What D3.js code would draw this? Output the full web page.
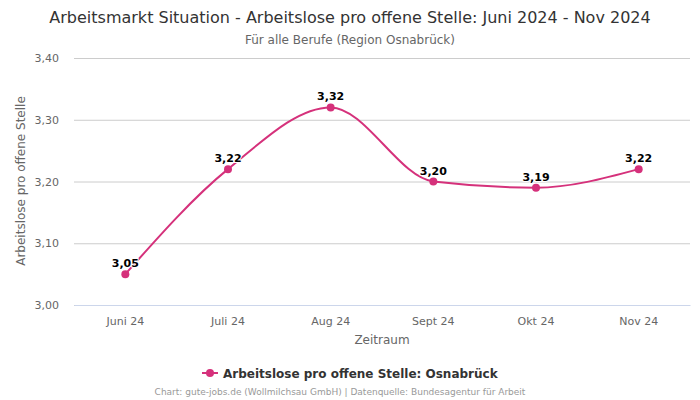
<!DOCTYPE html>
<html><head><meta charset="utf-8">
<script src="https://cdn.jsdelivr.net/npm/d3@7"></script>
<style>body{margin:0;background:#fff;font-family:"DejaVu Sans",sans-serif;}</style>
</head><body><svg id="c" width="700" height="400"></svg>
<script>
const categories = ["Juni 24","Juli 24","Aug 24","Sept 24","Okt 24","Nov 24"];
const values = [3.05,3.22,3.32,3.20,3.19,3.22];
const yTicks = [3.00,3.10,3.20,3.30,3.40];
const color = "#d5317b";
const fmt = v => v.toFixed(2).replace(".", ",");

const svg = d3.select("#c");
const pLeft = 74, pRight = 690, pTop = 58, pBottom = 305;
const x = d3.scaleBand().domain(categories).range([pLeft, pRight]);
const y = d3.scaleLinear().domain([3.0, 3.4]).range([pBottom, pTop]);
const cx = d => x(d) + x.bandwidth()/2;

svg.append("text").attr("x",350).attr("y",22.5).attr("text-anchor","middle")
  .attr("font-size",16).attr("fill","#333")
  .text("Arbeitsmarkt Situation - Arbeitslose pro offene Stelle: Juni 2024 - Nov 2024");
svg.append("text").attr("x",350).attr("y",43.5).attr("text-anchor","middle")
  .attr("font-size",12).attr("fill","#666").text("Für alle Berufe (Region Osnabrück)");

const ya = svg.append("g").attr("transform",`translate(${pLeft},0)`)
  .call(d3.axisLeft(y).tickValues(yTicks).tickSize(-(pRight-pLeft)).tickFormat(fmt));
ya.select(".domain").remove();
ya.selectAll("line").attr("stroke","#ccc");
ya.selectAll("text").attr("fill","#666").attr("font-size",11).attr("x",-15)
  .attr("font-family","DejaVu Sans");

const xa = svg.append("g").attr("transform",`translate(0,${pBottom})`)
  .call(d3.axisBottom(x).tickSize(0));
xa.select(".domain").attr("stroke","#ccd6eb");
xa.selectAll("text").attr("fill","#666").attr("font-size",11).attr("dy","1.5em")
  .attr("font-family","DejaVu Sans");

svg.append("text").attr("transform","translate(25,181) rotate(-90)").attr("text-anchor","middle")
  .attr("font-size",12).attr("fill","#666").text("Arbeitslose pro offene Stelle");
svg.append("text").attr("x",382).attr("y",344).attr("text-anchor","middle")
  .attr("font-size",12).attr("fill","#666").text("Zeitraum");

const line = d3.line().x((d,i)=>cx(categories[i])).y(d=>y(d)).curve(d3.curveMonotoneX);
svg.append("path").datum(values).attr("d",line).attr("fill","none").attr("stroke",color).attr("stroke-width",2);
svg.selectAll("circle.p").data(values).join("circle").attr("class","p")
  .attr("cx",(d,i)=>cx(categories[i])).attr("cy",d=>y(d)).attr("r",4).attr("fill",color);
svg.selectAll("text.lbl").data(values).join("text").attr("class","lbl")
  .attr("x",(d,i)=>cx(categories[i])).attr("y",d=>y(d)-7).attr("text-anchor","middle")
  .attr("font-size",11).attr("font-weight","bold").attr("fill","#000")
  .attr("stroke","#fff").attr("stroke-width",2).attr("paint-order","stroke").text(fmt);

const lg = svg.append("g");
lg.append("line").attr("x1",202).attr("x2",218).attr("y1",373).attr("y2",373).attr("stroke",color).attr("stroke-width",2);
lg.append("circle").attr("cx",210).attr("cy",373).attr("r",4).attr("fill",color);
lg.append("text").attr("x",223).attr("y",377.5).attr("font-size",12).attr("font-weight","bold").attr("fill","#333")
  .text("Arbeitslose pro offene Stelle: Osnabrück");
svg.append("text").attr("x",340).attr("y",395).attr("text-anchor","middle").attr("font-size",9).attr("fill","#999")
  .text("Chart: gute-jobs.de (Wollmilchsau GmbH) | Datenquelle: Bundesagentur für Arbeit");
</script></body></html>
